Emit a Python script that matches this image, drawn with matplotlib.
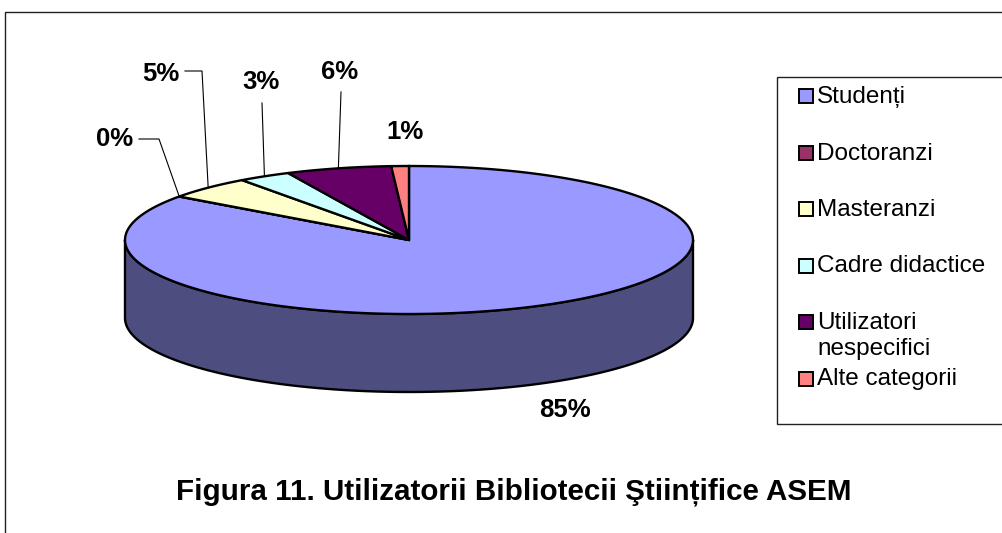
import matplotlib.pyplot as plt
import numpy as np
from matplotlib.colors import to_rgb
from matplotlib.patches import Polygon, Rectangle

categories = [
    "Studenți",
    "Doctoranzi",
    "Masteranzi",
    "Cadre didactice",
    "Utilizatori\nnespecifici",
    "Alte categorii",
]
shares = [85, 0, 5, 3, 6, 1]
pct_labels = ["85%", "0%", "5%", "3%", "6%", "1%"]
title = "Figura 11. Utilizatorii Bibliotecii Ştiințifice ASEM"
colors = ["#9999ff", "#993366", "#ffffcc", "#ccffff", "#660066", "#ff8080"]

# layout, in pixels of the 1003x533 canvas
W, H = 1003, 533
cx, cy, rx, ry, depth = 409, 240, 284, 74, 78
label_pos = [(565, 410), (115, 139), (161, 74), (261, 82), (340, 72), (405, 132)]
leader_start = [None, (139, 139), (185, 71), (262, 103), (341, 92), None]
leader_elbow = [None, (159, 139), (202, 71), None, None, None]
legend_slot = 56.5
legend_top = 96

plt.rcParams["font.family"] = ["Liberation Sans", "DejaVu Sans"]

fig = plt.figure(figsize=(W / 100, H / 100), dpi=100)
ax = fig.add_axes([0, 0, 1, 1])
ax.set_xlim(0, W)
ax.set_ylim(H, 0)
ax.axis("off")


def arc(t0, t1, dy=0.0, n=200):
    t = np.radians(np.linspace(t0, t1, n))
    return np.column_stack([cx + rx * np.cos(t), cy - ry * np.sin(t) + dy])


# slice angles, clockwise from 12 o'clock
total = sum(shares)
bounds = []
start = 90.0
for v in shares:
    end = start - 360.0 * v / total
    bounds.append((start, end))
    start = end

# side walls (front half only)
for (a0, a1), col in zip(bounds, colors):
    side_col = tuple(c * 0.5 for c in to_rgb(col))
    for k in (-360, 0, 360):
        lo = max(a1, -180 + k)
        hi = min(a0, 0 + k)
        if lo < hi:
            top = arc(lo, hi)
            bot = arc(hi, lo, dy=depth)
            ax.add_patch(Polygon(np.vstack([top, bot]), closed=True,
                                 facecolor=side_col, edgecolor="black",
                                 linewidth=1.7, joinstyle="round"))

# top faces
for (a0, a1), col in zip(bounds, colors):
    pts = np.vstack([[cx, cy], arc(a0, a1)])
    ax.add_patch(Polygon(pts, closed=True, facecolor=col, edgecolor="black",
                         linewidth=1.7, joinstyle="miter"))

# percentage labels and leader lines
for (a0, a1), lab, pos, ls, le in zip(bounds, pct_labels, label_pos,
                                      leader_start, leader_elbow):
    ax.text(pos[0], pos[1], lab, ha="center", va="center",
            fontsize=18.5, fontweight="bold")
    if ls is not None:
        mid = np.radians((a0 + a1) / 2)
        anchor = (cx + rx * np.cos(mid), cy - ry * np.sin(mid))
        path = [ls] + ([le] if le is not None else []) + [anchor]
        xs, ys = zip(*path)
        ax.plot(xs, ys, color="black", linewidth=0.8)

# legend
ax.add_patch(Rectangle((777, 77), 240, 347, facecolor="none",
                       edgecolor="#222222", linewidth=1.0))
for i, (cat, col) in enumerate(zip(categories, colors)):
    yc = legend_top + i * legend_slot
    ax.add_patch(Rectangle((799, yc - 7), 14, 14, facecolor=col,
                           edgecolor="black", linewidth=1.4))
    ax.text(817, yc - 10, cat, ha="left", va="top", fontsize=17.5,
            linespacing=1.25)

# outer frame
ax.add_patch(Rectangle((5, 12), 1100, 600, facecolor="none",
                       edgecolor="#222222", linewidth=1.0, clip_on=True))

ax.text(514, 492, title, ha="center", va="center", fontsize=21.3,
        fontweight="bold")

fig.savefig("out.png", dpi=100)
